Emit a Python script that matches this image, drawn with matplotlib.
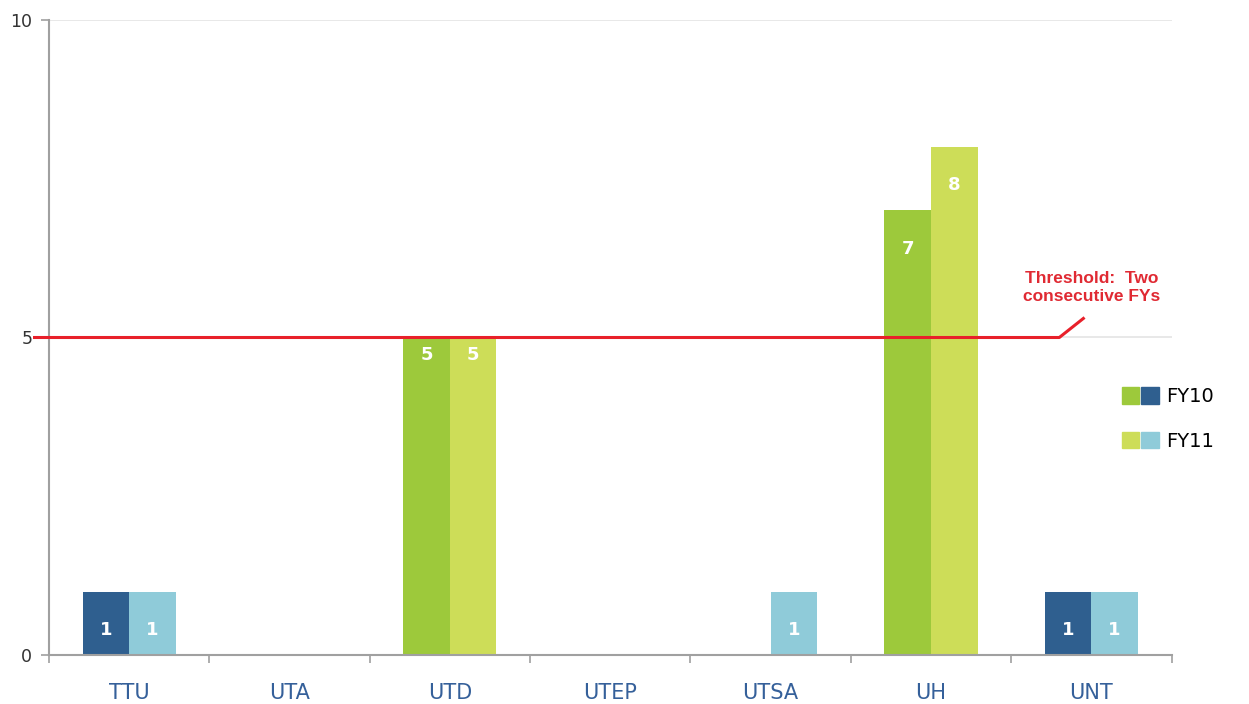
import numpy as np
import matplotlib.pyplot as plt
from matplotlib.patches import Patch
from matplotlib.legend_handler import HandlerTuple

schools = ["TTU", "UTA", "UTD", "UTEP", "UTSA", "UH", "UNT"]
fy10 = [1, 0, 5, 0, 0, 7, 1]
fy11 = [1, 0, 5, 0, 1, 8, 1]
# schools above the threshold are drawn in green, the rest in blue
over_threshold = [False, False, True, False, False, True, False]
threshold = 5

blue10, blue11 = "#2f5f8f", "#8fcbd9"
green10, green11 = "#9dc93b", "#cddd58"

fig = plt.figure(figsize=(12.49, 7.04), dpi=100)
ax = fig.add_axes([0.0392, 0.0696, 0.8988, 0.902])

x = np.arange(len(schools))
w = 0.29
c10 = [green10 if g else blue10 for g in over_threshold]
c11 = [green11 if g else blue11 for g in over_threshold]
ax.bar(x - w / 2, fy10, w, color=c10, zorder=2)
ax.bar(x + w / 2, fy11, w, color=c11, zorder=2)

for xs, vals in ((x - w / 2, fy10), (x + w / 2, fy11)):
    for xi, v in zip(xs, vals):
        if v > 0:
            off = 0.28 if v == threshold else 0.6
            ax.text(xi, v - off, str(v), ha="center", va="center", color="white",
                    fontsize=13, fontweight="bold", zorder=4)

ax.set_xlim(-0.5, len(schools) - 0.5)
ax.set_ylim(0, 10)
ax.set_yticks([0, 5, 10])
ax.yaxis.grid(True, color="#e4e4e4", linewidth=1.2, zorder=0)
ax.set_axisbelow(True)

# threshold line with a kinked leader to the note
ax.plot([-0.59, 5.8, 5.95], [threshold, threshold, threshold + 0.3], color="#e8202a",
        linewidth=2.2, zorder=3, clip_on=False)
ax.text(6.0, 5.78, "Threshold:  Two\nconsecutive FYs", color="#e02a33", fontsize=12.5,
        fontweight="bold", ha="center", va="center", linespacing=1.25,
        family="Liberation Sans")

ax.set_xticks(x)
ax.set_xticklabels(schools, color="#35609a", fontsize=15)
ax.set_xticks(np.arange(-0.5, len(schools)), minor=True)
ax.tick_params(axis="x", which="major", length=0, pad=20)
ax.tick_params(axis="x", which="minor", length=6, color="#a0a0a0", width=1.2)
ax.tick_params(axis="y", length=6, color="#a0a0a0", width=1.2, labelsize=12.5,
               labelcolor="#333333", pad=6)

for s in ("top", "right"):
    ax.spines[s].set_visible(False)
for s in ("left", "bottom"):
    ax.spines[s].set_color("#a0a0a0")
    ax.spines[s].set_linewidth(1.5)

handles = [(Patch(color=green10), Patch(color=blue10)),
           (Patch(color=green11), Patch(color=blue11))]
fig.legend(handles, ["FY10", "FY11"], loc="center left", bbox_to_anchor=(0.884, 0.405),
           frameon=False, fontsize=14, handlelength=1.9, handleheight=0.9,
           handletextpad=0.4, labelspacing=1.3,
           handler_map={tuple: HandlerTuple(ndivide=None, pad=0.12)})

fig.savefig("out.png", dpi=100)
